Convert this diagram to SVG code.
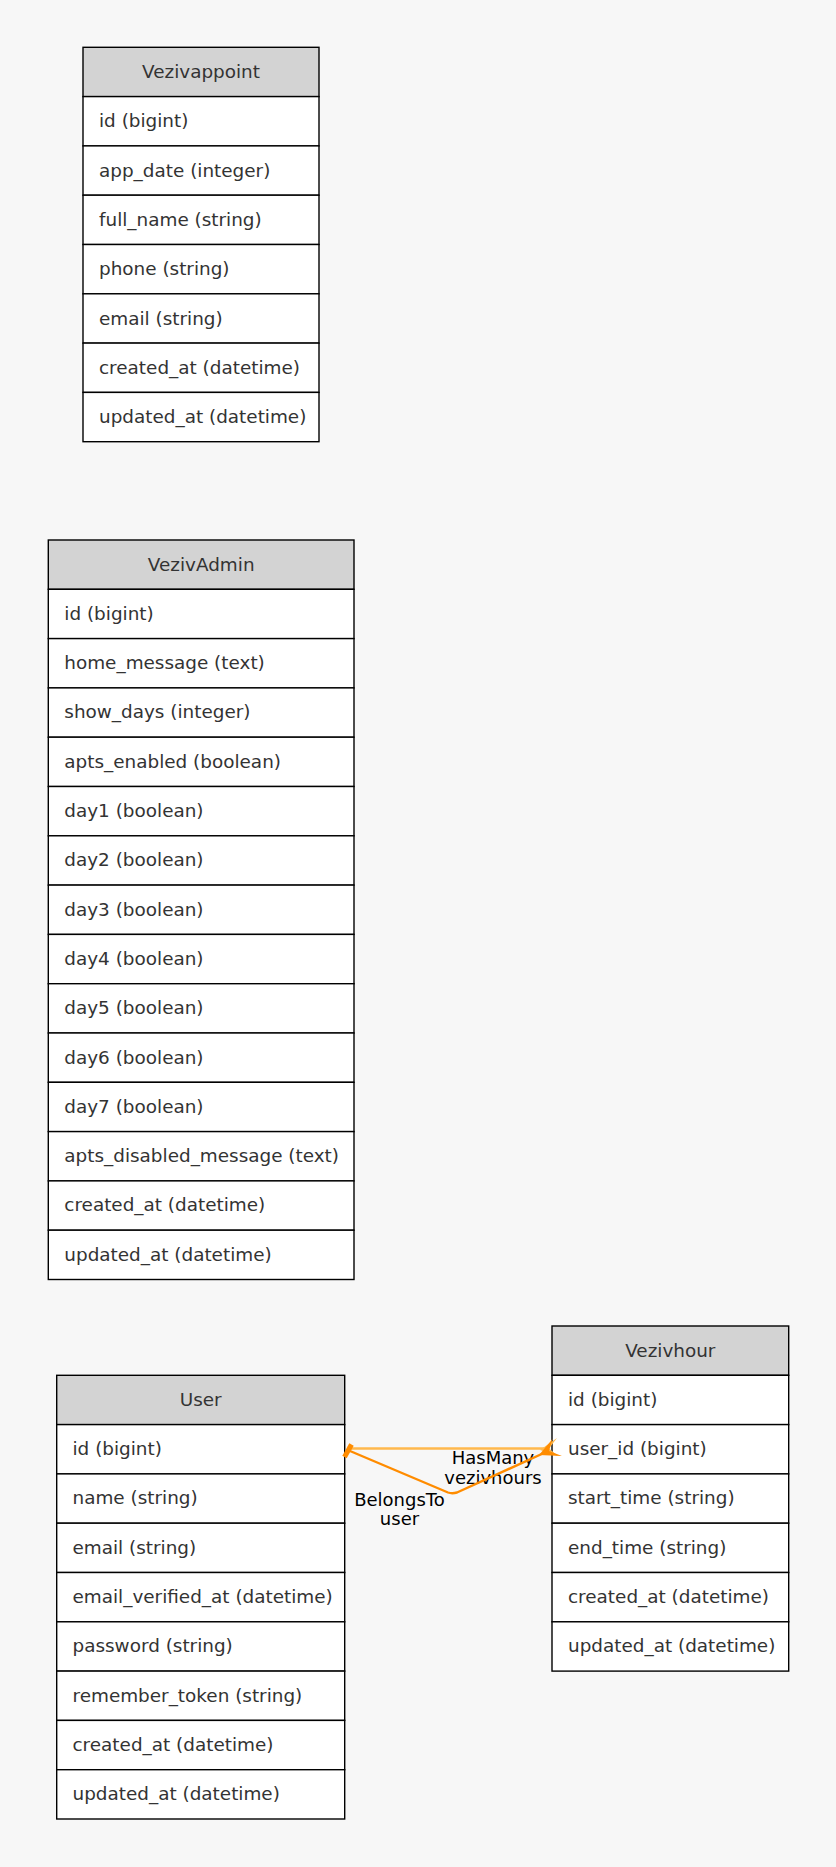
<svg xmlns="http://www.w3.org/2000/svg" width="836" height="1867" viewBox="0 0 836 1867">
<style>
.bg{fill:#f7f7f7}
.hd{fill:#d3d3d3;stroke:#000;stroke-width:1.4}
.rw{fill:#ffffff;stroke:#000;stroke-width:1.4}
.t{font-family:"DejaVu Sans","Liberation Sans",sans-serif;font-size:18.4px;fill:#333333}
.th{text-anchor:middle}
.lb{font-family:"DejaVu Sans","Liberation Sans",sans-serif;font-size:18px;fill:#000000;text-anchor:middle}
.e1{fill:none;stroke:#ffb84d;stroke-width:2.4}
.e2{fill:none;stroke:#ff8c00;stroke-width:2.4;stroke-linejoin:round}
</style>
<rect class="bg" x="0" y="0" width="836" height="1867"/>

<g id="Vezivappoint">
<rect class="hd" x="83" y="47.3" width="236" height="49.3"/>
<rect class="rw" x="83" y="96.6" width="236" height="49.3"/>
<rect class="rw" x="83" y="145.9" width="236" height="49.3"/>
<rect class="rw" x="83" y="195.2" width="236" height="49.3"/>
<rect class="rw" x="83" y="244.5" width="236" height="49.3"/>
<rect class="rw" x="83" y="293.8" width="236" height="49.3"/>
<rect class="rw" x="83" y="343.1" width="236" height="49.3"/>
<rect class="rw" x="83" y="392.4" width="236" height="49.3"/>
<text class="t th" x="201" y="78">Vezivappoint</text>
<text class="t" x="99" y="127.3">id (bigint)</text>
<text class="t" x="99" y="176.6">app_date (integer)</text>
<text class="t" x="99" y="225.9">full_name (string)</text>
<text class="t" x="99" y="275.2">phone (string)</text>
<text class="t" x="99" y="324.5">email (string)</text>
<text class="t" x="99" y="373.8">created_at (datetime)</text>
<text class="t" x="99" y="423.1">updated_at (datetime)</text>
</g>

<g id="VezivAdmin">
<rect class="hd" x="48.3" y="540" width="305.7" height="49.3"/>
<rect class="rw" x="48.3" y="589.3" width="305.7" height="49.3"/>
<rect class="rw" x="48.3" y="638.6" width="305.7" height="49.3"/>
<rect class="rw" x="48.3" y="687.9" width="305.7" height="49.3"/>
<rect class="rw" x="48.3" y="737.2" width="305.7" height="49.3"/>
<rect class="rw" x="48.3" y="786.5" width="305.7" height="49.3"/>
<rect class="rw" x="48.3" y="835.8" width="305.7" height="49.3"/>
<rect class="rw" x="48.3" y="885.1" width="305.7" height="49.3"/>
<rect class="rw" x="48.3" y="934.4" width="305.7" height="49.3"/>
<rect class="rw" x="48.3" y="983.7" width="305.7" height="49.3"/>
<rect class="rw" x="48.3" y="1033" width="305.7" height="49.3"/>
<rect class="rw" x="48.3" y="1082.3" width="305.7" height="49.3"/>
<rect class="rw" x="48.3" y="1131.6" width="305.7" height="49.3"/>
<rect class="rw" x="48.3" y="1180.9" width="305.7" height="49.3"/>
<rect class="rw" x="48.3" y="1230.2" width="305.7" height="49.3"/>
<text class="t th" x="201.2" y="570.5">VezivAdmin</text>
<text class="t" x="64.3" y="619.8">id (bigint)</text>
<text class="t" x="64.3" y="669.1">home_message (text)</text>
<text class="t" x="64.3" y="718.4">show_days (integer)</text>
<text class="t" x="64.3" y="767.7">apts_enabled (boolean)</text>
<text class="t" x="64.3" y="817">day1 (boolean)</text>
<text class="t" x="64.3" y="866.3">day2 (boolean)</text>
<text class="t" x="64.3" y="915.6">day3 (boolean)</text>
<text class="t" x="64.3" y="964.9">day4 (boolean)</text>
<text class="t" x="64.3" y="1014.2">day5 (boolean)</text>
<text class="t" x="64.3" y="1063.5">day6 (boolean)</text>
<text class="t" x="64.3" y="1112.8">day7 (boolean)</text>
<text class="t" x="64.3" y="1162.1">apts_disabled_message (text)</text>
<text class="t" x="64.3" y="1211.4">created_at (datetime)</text>
<text class="t" x="64.3" y="1260.7">updated_at (datetime)</text>
</g>

<g id="User">
<rect class="hd" x="56.7" y="1375.3" width="288" height="49.3"/>
<rect class="rw" x="56.7" y="1424.6" width="288" height="49.3"/>
<rect class="rw" x="56.7" y="1473.9" width="288" height="49.3"/>
<rect class="rw" x="56.7" y="1523.2" width="288" height="49.3"/>
<rect class="rw" x="56.7" y="1572.5" width="288" height="49.3"/>
<rect class="rw" x="56.7" y="1621.8" width="288" height="49.3"/>
<rect class="rw" x="56.7" y="1671.1" width="288" height="49.3"/>
<rect class="rw" x="56.7" y="1720.4" width="288" height="49.3"/>
<rect class="rw" x="56.7" y="1769.7" width="288" height="49.3"/>
<text class="t th" x="200.7" y="1405.8">User</text>
<text class="t" x="72.5" y="1455.1">id (bigint)</text>
<text class="t" x="72.5" y="1504.4">name (string)</text>
<text class="t" x="72.5" y="1553.7">email (string)</text>
<text class="t" x="72.5" y="1603">email_verified_at (datetime)</text>
<text class="t" x="72.5" y="1652.3">password (string)</text>
<text class="t" x="72.5" y="1701.6">remember_token (string)</text>
<text class="t" x="72.5" y="1750.9">created_at (datetime)</text>
<text class="t" x="72.5" y="1800.2">updated_at (datetime)</text>
</g>

<g id="Vezivhour">
<rect class="hd" x="552" y="1326" width="236.7" height="49.3"/>
<rect class="rw" x="552" y="1375.3" width="236.7" height="49.3"/>
<rect class="rw" x="552" y="1424.6" width="236.7" height="49.3"/>
<rect class="rw" x="552" y="1473.9" width="236.7" height="49.3"/>
<rect class="rw" x="552" y="1523.2" width="236.7" height="49.3"/>
<rect class="rw" x="552" y="1572.5" width="236.7" height="49.3"/>
<rect class="rw" x="552" y="1621.8" width="236.7" height="49.3"/>
<text class="t th" x="670.3" y="1356.5">Vezivhour</text>
<text class="t" x="568" y="1405.8">id (bigint)</text>
<text class="t" x="568" y="1455.1">user_id (bigint)</text>
<text class="t" x="568" y="1504.4">start_time (string)</text>
<text class="t" x="568" y="1553.7">end_time (string)</text>
<text class="t" x="568" y="1603">created_at (datetime)</text>
<text class="t" x="568" y="1652.3">updated_at (datetime)</text>
</g>

<g id="connectors">
<g id="edge-hasmany">
<path class="e1" d="M349,1448.5 L544,1448.5"/>
<polygon fill="#ffb84d" points="540,1450 557,1438 549,1448.5 558,1456"/>
<text class="lb" x="493" y="1464">HasMany</text>
<text class="lb" x="493" y="1484">vezivhours</text>
</g>
<g id="edge-belongsto">
<path class="e2" d="M350,1451 L448,1492.5 Q452,1494 457,1492.5 L545,1452.5"/>
<polygon fill="#ff8c00" points="539,1455 552.5,1439 549,1451 562,1456"/>
<line x1="344.5" y1="1457" x2="351.5" y2="1444.5" stroke="#ff8c00" stroke-width="5"/>
<text class="lb" x="399.5" y="1505.5">BelongsTo</text>
<text class="lb" x="399.5" y="1525">user</text>
</g>
</g>
</svg>
